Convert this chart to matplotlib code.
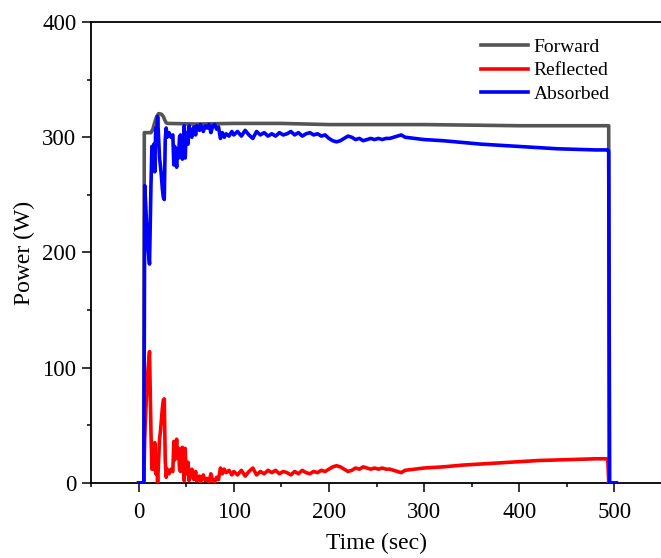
import matplotlib
matplotlib.use("Agg")
import matplotlib.pyplot as plt
from matplotlib.ticker import MultipleLocator

plt.rcParams['font.family'] = ['Liberation Serif', 'DejaVu Serif']
plt.rcParams['mathtext.fontset'] = 'stix'

# ---- data ----
t_fwd = [0, 5.5, 6, 13, 15, 17, 19, 21, 24, 26, 27.5, 29, 31, 60, 100, 150,
         200, 250, 300, 350, 400, 450, 494, 494.5, 502]
forward = [0, 0, 304, 304, 307, 313, 318, 320.5, 320, 318, 315, 312.5, 312, 311.5,
           312, 312, 311, 311, 311, 310.5, 310, 310, 310, 0, 0]

t_ra = [0, 5.5, 6.5, 8, 10, 11.5, 13, 14, 15, 16, 17, 18, 19, 20, 21, 22, 23, 24,
        25, 26, 27, 28, 29, 30, 32, 34, 36, 37, 38, 39, 40, 41, 42, 43, 44, 45,
        46, 47, 48, 49, 50, 52, 53, 54, 56, 58, 60, 61, 62, 64, 65, 66, 68, 70,
        72, 74, 76, 78, 80, 82, 84, 86, 88, 90, 92, 95, 98, 100, 104, 108, 112,
        116, 120, 124, 128, 132, 136, 140, 144, 148, 152, 156, 160, 164, 168,
        172, 176, 180, 184, 188, 192, 196, 200, 204, 208, 212, 216, 220, 224,
        228, 232, 236, 240, 244, 248, 252, 256, 260, 264, 268, 272, 276, 280,
        290, 300, 320, 340, 360, 380, 400, 420, 440, 460, 480, 493, 494, 495, 502]

reflected = [0, 0, 40, 70, 100, 114, 45, 12, 30, 12, 35, 8, 18, 0, 20, 38, 45, 55,
             65, 72, 73, 20, 5, 12, 8, 12, 10, 36, 20, 28, 38, 22, 30, 12, 10, 28,
             31, 15, 2, 30, 8, 18, 2, 5, 12, 3, 10, 2, 4, 6, 1, 3, 7, 2,
             4, 1, 8, 2, 1, 5, 3, 13, 8, 12, 9, 11, 7, 10, 7, 11, 6,
             10, 13, 7, 10, 8, 11, 9, 11, 8, 10, 9, 7, 10, 8,
             11, 9, 8, 10, 9, 11, 10, 12, 14, 15, 14, 12, 10, 11,
             13, 12, 14, 13, 12, 13, 12, 13, 12, 12, 11, 10, 9, 11,
             12, 13, 14, 15.5, 16.5, 17.5, 18.5, 19.5, 20, 20.5, 21, 21, 0, 0, 0]

absorbed = [0, 0, 258, 232, 203, 190, 258, 292, 276, 294, 270, 308, 300, 318, 300,
            282, 275, 266, 255, 248, 246, 298, 308, 300, 304, 300, 302, 276, 292,
            284, 274, 290, 282, 300, 302, 284, 281, 297, 310, 282, 304, 294, 310,
            307, 300, 309, 302, 310, 308, 306, 311, 309, 305, 310, 308, 311, 304,
            310, 311, 307, 309, 299, 304, 300, 303, 301, 305, 302, 305, 301, 306,
            302, 299, 305, 302, 304, 301, 303, 301, 304, 302, 303, 305, 302, 304,
            301, 303, 304, 302, 303, 301, 302, 299, 297, 296, 297, 299, 301, 300,
            298, 299, 297, 298, 299, 298, 299, 298, 299, 299, 300, 301, 302, 300,
            299, 298, 297, 295.5, 294, 293, 292, 291, 290, 289.5, 289, 289, 288, 0, 0]

x_ticks = [0, 100, 200, 300, 400, 500]
y_ticks = [0, 100, 200, 300, 400]

# ---- figure ----
fig = plt.figure(figsize=(6.61, 5.58), dpi=100)
ax = fig.add_axes([91 / 661, 1 - 483 / 558, (662 - 91) / 661, (483 - 22) / 558])

ax.plot(t_fwd, forward, color='#555555', lw=2.6, label='Forward', zorder=3)
ax.plot(t_ra, reflected, color='#ff0000', lw=2.6, label='Reflected', zorder=4)
ax.plot(t_ra, absorbed, color='#0000ff', lw=2.6, label='Absorbed', zorder=5)

ax.set_xlim(-50, 550)
ax.set_ylim(0, 400)
ax.set_xticks(x_ticks)
ax.set_yticks(y_ticks)
ax.xaxis.set_minor_locator(MultipleLocator(50))
ax.yaxis.set_minor_locator(MultipleLocator(50))
ax.tick_params(which='major', direction='out', length=6.5, width=1.1,
               labelsize=16.5)
ax.tick_params(axis='x', which='major', pad=7)
ax.tick_params(axis='y', which='major', pad=4)
ax.tick_params(which='minor', direction='out', length=3.2, width=1.1)
ax.tick_params(top=False, right=False, which='both')
ax.spines['right'].set_visible(False)
for s in ['left', 'bottom', 'top']:
    ax.spines[s].set_linewidth(1.3)

ax.set_xlabel('Time (sec)', fontsize=17, labelpad=7)
ax.set_ylabel('Power (W)', fontsize=17, labelpad=5)

leg = ax.legend(loc='upper left', bbox_to_anchor=(481 / 661, 1 - 38 / 558),
                bbox_transform=fig.transFigure, frameon=False, fontsize=14,
                handlelength=2.4, handletextpad=0.3, labelspacing=0.32,
                borderaxespad=0, borderpad=0)

fig.savefig('out.png', dpi=100)
